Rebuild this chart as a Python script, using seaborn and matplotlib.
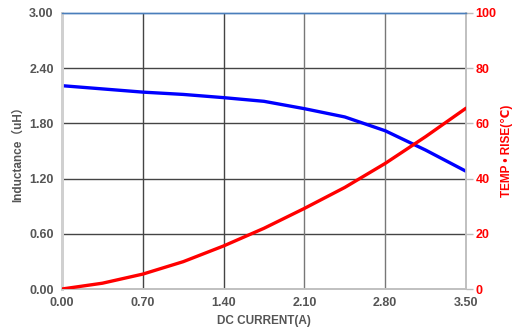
import matplotlib
matplotlib.use("Agg")
import matplotlib.pyplot as plt
import seaborn as sns
import pandas as pd

current = [0.0, 0.35, 0.70, 1.05, 1.40, 1.75, 2.10, 2.45, 2.80, 3.15, 3.50]
inductance = [2.21, 2.175, 2.14, 2.115, 2.08, 2.04, 1.96, 1.87, 1.72, 1.51, 1.28]
temp_rise = [0.0, 2.1, 5.4, 9.9, 15.6, 22.0, 29.2, 36.8, 45.5, 55.2, 65.5]
x_ticks = [0.0, 0.7, 1.4, 2.1, 2.8, 3.5]
y_ticks = [0.0, 0.6, 1.2, 1.8, 2.4, 3.0]
t_ticks = [0, 20, 40, 60, 80, 100]

df = pd.DataFrame({"current": current, "L": inductance, "T": temp_rise})

sns.set_style("white")
plt.rcParams['font.family'] = ['Liberation Sans', 'DejaVu Sans']

fig = plt.figure(figsize=(5.18, 3.35), dpi=100)
ax = fig.add_axes([0.1197, 0.1373, 0.7799, 0.8239])
ax2 = ax.twinx()

grid_c = '#444444'
for v in y_ticks[1:-1]:
    ax.axhline(v, color=grid_c, lw=1.0, zorder=1)
for v in x_ticks[1:-1]:
    ax.axvline(v, color=grid_c if v < 2 else '#777777', lw=1.0, zorder=1)

sns.lineplot(data=df, x="current", y="L", ax=ax, color='#0000ff', lw=2.4, zorder=3)
sns.lineplot(data=df, x="current", y="T", ax=ax2, color='#ff0000', lw=2.4, zorder=3)

ax.set_xlim(0, 3.5)
ax.set_ylim(0, 3.0)
ax2.set_ylim(0, 100)
ax.set_xticks(x_ticks)
ax.set_xticklabels([f"{v:.2f}" for v in x_ticks])
ax.set_yticks(y_ticks)
ax.set_yticklabels([f"{v:.2f}" for v in y_ticks])
ax2.set_yticks(t_ticks)
ax2.set_yticklabels([str(v) for v in t_ticks])

lab_c = '#555555'
ax.tick_params(axis='both', length=0, pad=6, labelsize=9, labelcolor=lab_c)
for lbl in ax.get_xticklabels() + ax.get_yticklabels():
    lbl.set_fontweight('bold')
ax2.tick_params(axis='y', length=5, width=1, color='#bbbbbb', pad=2,
                labelsize=9, labelcolor='#ff0000')
for lbl in ax2.get_yticklabels():
    lbl.set_fontweight('bold')

ax.set_xlabel("DC CURRENT(A)", fontsize=8.5, fontweight='bold', color=lab_c, labelpad=4)
ax.set_ylabel("Inductance（uH）", fontsize=8.5, fontweight='bold', color=lab_c, labelpad=4,
              family=['Liberation Sans', 'Noto Sans CJK SC', 'DejaVu Sans'])
ax2.set_ylabel("TEMP • RISE(℃)", fontsize=8.5, fontweight='bold', color='#ff0000', labelpad=3,
               family=['Liberation Sans', 'DejaVu Sans'])

for a in (ax, ax2):
    a.spines['top'].set_color('#4a7ebb')
    a.spines['top'].set_linewidth(1.0)
    a.spines['left'].set_color('#d0d0d0')
    a.spines['left'].set_linewidth(2)
    a.spines['bottom'].set_color('#c0c0c0')
    a.spines['bottom'].set_linewidth(1.2)
    a.spines['right'].set_color('#c0c0c0')
    a.spines['right'].set_linewidth(1.2)

fig.savefig("out.png", dpi=100)
